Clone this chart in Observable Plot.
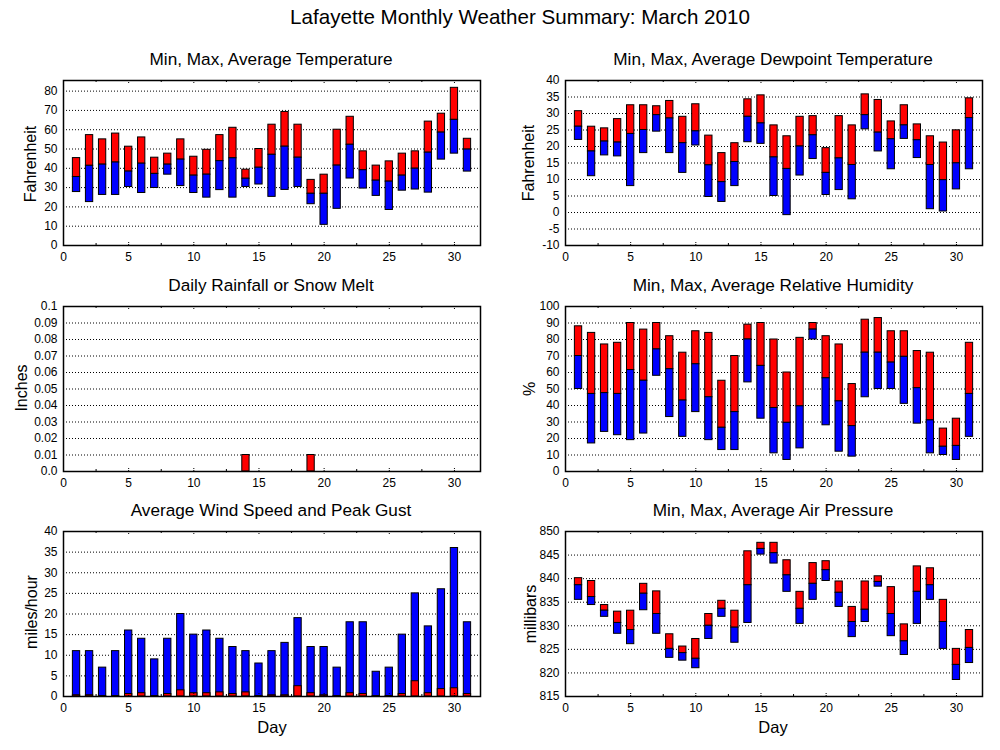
<!DOCTYPE html>
<html><head><meta charset="utf-8">
<script src="https://cdn.jsdelivr.net/npm/d3@7"></script>
<script src="https://cdn.jsdelivr.net/npm/@observablehq/plot@0.6"></script>
<style>
body{margin:0;background:#fff;}
#c{position:relative;width:1000px;height:750px;font-family:"Liberation Sans",Arial,sans-serif;color:#000;overflow:hidden;}
.t{position:absolute;white-space:nowrap;transform:translate(-50%,-50%);line-height:1;}
.r{transform:translate(-50%,-50%) rotate(-90deg);}
</style></head><body><div id="c"></div>
<script>
const days = [1,2,3,4,5,6,7,8,9,10,11,12,13,14,15,16,17,18,19,20,21,22,23,24,25,26,27,28,29,30,31];

const tempMax = [45.3,57.2,55,58,51.2,56,45.5,47.6,55,46,49.6,57.2,61,39.3,50,62.6,69.2,62.6,34,36.7,60,66.7,48.8,41.4,43.6,47.6,48.8,64.2,68.3,81.7,55.3];
const tempAvg = [35.5,41.3,41.9,43,38.3,42.4,37.1,41.9,44.5,36.2,36.7,43.7,45.2,34.6,40.3,47,51.2,45.5,26.8,26.8,41.4,52.2,39,33.6,33.1,36.2,39.8,48.1,58.5,65.1,49.7];
const tempMin = [27.7,22.5,26.2,26.2,30.3,27.2,29.8,36.7,30.8,27.2,24.8,28.7,24.8,30.3,31.6,25.2,28.8,30.3,21.4,10.7,19,34.7,29.5,25.7,18.4,28.4,29,27.4,44.5,47.6,38.3];

const dewMax = [30.7,26,25.5,28.3,32.5,32.5,32.2,33.8,29,32.8,23.3,18,21,34.3,35.5,26.4,23.1,29,29.2,19.5,29.2,26.4,35.8,34.1,27.6,32.5,26.7,23.1,21.2,24.9,34.6];
const dewAvg = [26,18.5,21.5,21.2,23.8,25,29.5,28.5,21,24.6,14.3,9.2,15.3,29,27,16.7,13.2,20,23.4,12,16.4,14.4,29.5,24.2,22.2,26.4,21.9,14.4,9.8,14.9,28.6];
const dewMin = [22,11,17.3,17,8,18,24.5,18,12,20.3,4.7,3.2,8,21.3,20.8,5,-0.8,11.2,16.2,5.3,6.8,4,25.2,18.5,13.1,22.3,16.5,1,0.3,7,13.1];

const rain = [0,0,0,0,0,0,0,0,0,0,0,0,0,0.01,0,0,0,0,0.01,0,0,0,0,0,0,0,0,0,0,0,0];

const rhMax = [88,84,77,78,90,86,90,82,72,85,84,55,70,89,90,80,60,81,90,82,77,53,92,93,85,85,73,72,26,32,78];
const rhAvg = [70,47,47.5,47,61.5,55,74,62,43,65,45,26.5,36,80,64,38.5,29.5,39.5,86,56.5,42.5,27.5,72,72,66,69.5,50.5,31,15,15.5,47];
const rhMin = [50,17,24,22,19,23,58,33,21,36,19,13,13,54,32,11,7,14,80,28,12,9,45,50,50,41,29,11,10,7,21];

const windGust = [11,11,7,11,16,14,9,14,20,15,16,14,12,11,8,11,13,19,12,12,7,18,18,6,7,15,25,17,26,36,18];
const windAvg = [0.3,0.3,0.1,0.1,0.6,0.8,0.1,0.6,1.5,0.8,0.8,1.0,0.6,1.0,0.1,0.3,0.3,2.5,0.8,0.3,0.1,0.8,0.6,0.1,0.1,0.6,3.7,0.8,1.8,2.0,0.6];

const presMax = [840.1,839.5,834.4,833,833.2,838.9,837.3,828.2,825.6,827.2,832.5,835.3,833.2,845.8,847.6,847.6,843.9,837.2,843.3,843.7,839.4,834,839.4,840.5,838.2,830.3,842.6,842.2,835.5,825.1,829.1];
const presAvg = [838.6,836.1,833.2,830.6,829.1,836.8,832.5,825.1,824.2,823,830,833.6,829.6,838.6,846.3,845.4,840.7,833.6,838.9,841.8,837,830.8,833.4,839.3,832.5,826.7,837.2,838.6,830.8,821.7,825.3];
const presMin = [835.5,834.4,831.9,828.3,826.1,833.3,828.3,823.2,822.6,821,827.2,831.9,826.4,830.6,845.1,843.2,837.2,830.4,835.5,839.5,834,827.6,830.8,838.3,827.8,823.8,830.4,835.5,825.1,818.5,822.1];

const xMajor = [0,5,10,15,20,25,30];
const xMinor = [2.5,7.5,12.5,17.5,22.5,27.5];
const tempTicks = [0,10,20,30,40,50,60,70,80];
const dewTicks = [-10,-5,0,5,10,15,20,25,30,35,40];
const rainTicks = [0,0.01,0.02,0.03,0.04,0.05,0.06,0.07,0.08,0.09,0.1];
const rhTicks = [0,10,20,30,40,50,60,70,80,90,100];
const windTicks = [0,5,10,15,20,25,30,35,40];
const presTicks = [815,820,825,830,835,840,845,850];

const RED = "#ff0000", BLUE = "#0000ff";
const HW = 0.28;
const C = document.getElementById("c");
const FONT = '"Liberation Sans", Arial, sans-serif';

function rows3(mn, av, mx) { return days.map((d, i) => ({day: d, min: mn[i], avg: av[i], max: mx[i]})); }

function panel(box, yDomain, yTicks, yFormat, marks) {
  const {L, R, T, B} = box;
  const ml = 60, mr = 10, mt = 10, mb = 30;
  const h = B - T;
  const span = yDomain[1] - yDomain[0];
  const majLen = span * 4 / h, minLen = span * 2 / h;
  const p = Plot.plot({
    width: ml + (R - L) + mr, height: mt + h + mb,
    marginLeft: ml, marginRight: mr, marginTop: mt, marginBottom: mb,
    style: {fontFamily: FONT, fontSize: "12px", background: "transparent", color: "#000", overflow: "visible"},
    x: {domain: [0, 32]},
    y: {domain: yDomain},
    marks: [
      Plot.ruleY(yTicks, {stroke: "#000", strokeWidth: 1, strokeDasharray: "1,2"}),
      Plot.axisX(xMajor, {anchor: "bottom", tickSize: 0, tickPadding: 7, label: null, fontSize: 12}),
      Plot.axisY(yTicks, {anchor: "left", tickSize: 0, tickPadding: 6, label: null, fontSize: 12, tickFormat: yFormat}),
      ...marks,
      Plot.ruleX(xMajor, {y1: yDomain[1], y2: yDomain[1] - majLen, stroke: "#000", strokeDasharray: "1,1"}),
      Plot.ruleX(xMajor, {y1: yDomain[0], y2: yDomain[0] + majLen, stroke: "#000", strokeDasharray: "1,1"}),
      Plot.ruleX(xMinor, {y1: yDomain[1], y2: yDomain[1] - minLen, stroke: "#000"}),
      Plot.ruleX(xMinor, {y1: yDomain[0], y2: yDomain[0] + minLen, stroke: "#000"}),
      Plot.frame({stroke: "#000", strokeWidth: 1.5})
    ]
  });
  p.style.position = "absolute";
  p.style.left = (L - ml) + "px";
  p.style.top = (T - mt) + "px";
  C.appendChild(p);
}

function rangeBars(data) {
  return [
    Plot.rectY(data, {x1: d => d.day - HW, x2: d => d.day + HW, y1: "avg", y2: "max", fill: RED, stroke: "#000", strokeWidth: 1}),
    Plot.rectY(data, {x1: d => d.day - HW, x2: d => d.day + HW, y1: "min", y2: "avg", fill: BLUE, stroke: "#000", strokeWidth: 1})
  ];
}

function text(str, x, y, size, rot) {
  const el = document.createElement("div");
  el.className = "t" + (rot ? " r" : "");
  el.style.left = x + "px"; el.style.top = y + "px"; el.style.fontSize = size + "px";
  el.textContent = str;
  C.appendChild(el);
}

const LC = {L: 63, R: 480}, RC = {L: 565, R: 982};
const ROW = [{T: 80, B: 245}, {T: 306, B: 471}, {T: 531, B: 696}];

panel({...LC, ...ROW[0]}, [0, 85.5], tempTicks, d => String(d), rangeBars(rows3(tempMin, tempAvg, tempMax)));
panel({...RC, ...ROW[0]}, [-10, 40], dewTicks, d => String(d), rangeBars(rows3(dewMin, dewAvg, dewMax)));

const rainData = days.map((d, i) => ({day: d, v: rain[i]})).filter(d => d.v > 0);
panel({...LC, ...ROW[1]}, [0, 0.1], rainTicks, d => d === 0 ? "0.0" : String(+d.toFixed(2)),
  [Plot.rectY(rainData, {x1: d => d.day - HW, x2: d => d.day + HW, y1: 0, y2: "v", fill: RED, stroke: "#000", strokeWidth: 1})]);
panel({...RC, ...ROW[1]}, [0, 100], rhTicks, d => String(d), rangeBars(rows3(rhMin, rhAvg, rhMax)));

const windData = days.map((d, i) => ({day: d, gust: windGust[i], avg: windAvg[i]}));
panel({...LC, ...ROW[2]}, [0, 40], windTicks, d => String(d), [
  Plot.rectY(windData, {x1: d => d.day - HW, x2: d => d.day + HW, y1: 0, y2: "gust", fill: BLUE, stroke: "#000", strokeWidth: 1}),
  Plot.rectY(windData, {x1: d => d.day - HW, x2: d => d.day + HW, y1: 0, y2: "avg", fill: RED, stroke: "#000", strokeWidth: 1})
]);
panel({...RC, ...ROW[2]}, [815, 850], presTicks, d => String(d), rangeBars(rows3(presMin, presAvg, presMax)));

text("Lafayette Monthly Weather Summary: March 2010", 520, 17, 20.6);
text("Min, Max, Average Temperature", 271, 60, 17.2);
text("Min, Max, Average Dewpoint Temperature", 773, 60, 17.2);
text("Daily Rainfall or Snow Melt", 271, 286, 17.2);
text("Min, Max, Average Relative Humidity", 773, 286, 17.2);
text("Average Wind Speed and Peak Gust", 271, 511, 17.2);
text("Min, Max, Average Air Pressure", 773, 511, 17.2);
text("Day", 272, 727, 16.5);
text("Day", 773, 727, 16.5);
text("Fahrenheit", 31, 164, 16, true);
text("Inches", 22, 388, 16, true);
text("miles/hour", 32, 612, 16, true);
text("Fahrenheit", 529, 163, 16, true);
text("%", 530, 389, 16, true);
text("millibars", 531, 614, 16, true);
</script></body></html>
